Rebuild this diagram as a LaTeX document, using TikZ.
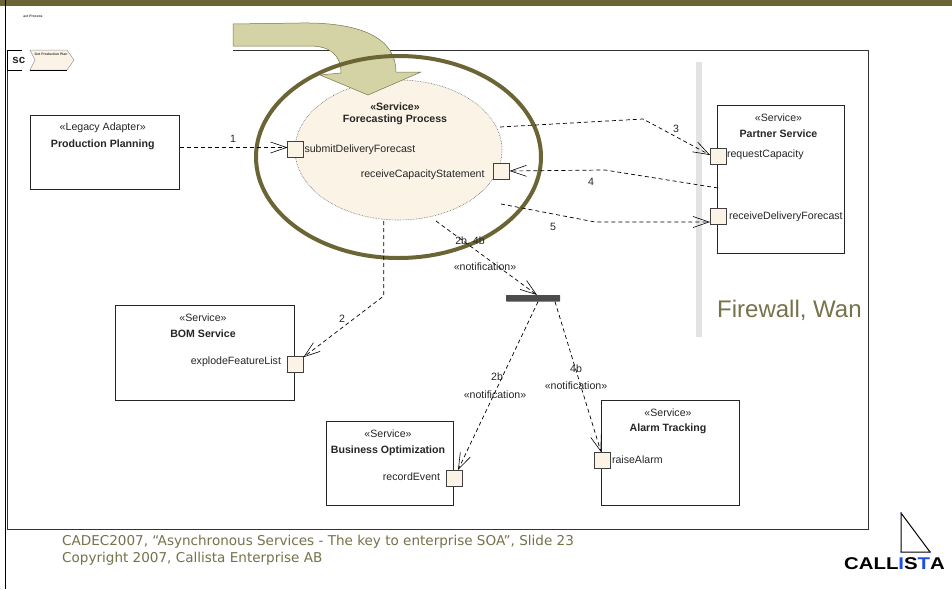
\documentclass[tikz,border=0pt]{standalone}
\usepackage{fontspec}
\setmainfont{Liberation Sans}
\newfontfamily\footfont{DejaVu Sans}
\newfontfamily\logofont[FakeStretch=1.2]{Liberation Sans}
\usetikzlibrary{arrows.meta,positioning,shapes.geometric}
\definecolor{olive}{HTML}{6B6535}
\definecolor{oliveText}{HTML}{76724A}
\definecolor{oliveLight}{HTML}{D4D3A6}
\definecolor{cream}{HTML}{FBF3E6}
\definecolor{wall}{HTML}{E3E3E3}
\definecolor{logoBlue}{HTML}{1F4FE0}

\begin{document}
\begin{tikzpicture}[
x=1pt, y=-1pt,
    Txt/.style = {inner sep=0pt, outer sep=0pt, text=black!85,
                  font=\fontsize{10.6}{13}\selectfont},
    Ttl/.style = {Txt, font=\fontsize{10.6}{13}\selectfont\bfseries},
    Box/.style = {rectangle, draw=black!85, line width=.9pt,
                  outer sep=0pt},
   Port/.style = {rectangle, draw=black!75, fill=cream, line width=1pt,
                  minimum size=16pt, inner sep=0pt, outer sep=0pt},% small squares on the boxes
   Conn/.style = {dashed, dash pattern=on 4pt off 3pt, line width=.7pt,
                  -{Straight Barb[length=16pt,width=11pt,line width=.6pt]}},
   Tiny/.style = {inner sep=0pt, text=black!80, font=\fontsize{3.4}{4}\selectfont\bfseries},
   Foot/.style = {inner sep=0pt, text=oliveText, anchor=west,
                  font=\footfont\fontsize{13.55}{15}\selectfont},
                    ]
\useasboundingbox (0,0) rectangle (952,589);
\fill[white] (0,0) rectangle (952,589);
\fill[olive] (0,0) rectangle (952,5.5);
\draw[line width=1pt] (5.5,0) -- (5.5,589);
% outer frame, open on its top left
\draw[black!80, line width=1pt] (233,50) -- (868,50) -- (868,529) -- (7.5,529) -- (7.5,70);
\draw[line width=1pt] (22,70) -- (7.5,70) -- (7.5,50) -- (22,50);
\node (sdTab) [Txt, font=\fontsize{11.5}{13}\selectfont\bfseries, anchor=west] at (12.5,60) {sc};
\node (actName) [Tiny] at (33,16) {act Process};
\fill[cream, draw=black!40, line width=.5pt] (30,50) -- (67,50) -- (74,60) -- (67,70) -- (30,70) -- (35,60) -- cycle;
\draw[line width=.8pt] (30,70) -- (67,70);
\node (planTag) [Tiny] at (51,54.5) {Get Production Plan};
\fill[wall] (696,62) rectangle (702,337);
% process in the middle
\node (Proc) [ellipse, draw=black!60, densely dotted, fill=cream, line width=.6pt,
              minimum width=207pt, minimum height=140pt, inner sep=0pt] at (398.5,150) {};
\draw[olive!90, fill=oliveLight, line width=.5pt] (233,24) -- (300,23)
    .. controls (365,22) and (396,40) .. (396,72) -- (421,72) -- (368,95) -- (320,75) -- (341,73)
    .. controls (341,55) and (330,46) .. (310,46) -- (233,46) -- cycle;
\draw[olive, line width=4pt] (398.5,157) ellipse [x radius=142.5, y radius=101];
\node (ProcS) [Ttl] at (395,107) {«Service»};
\node (ProcT) [Ttl] at (395,120) {Forecasting Process};
% the boxes, centre and size
\foreach \n/\x/\y/\w/\h/\s/\t in {
    Plan/104.75/152.25/148.5/73.5/{«Legacy Adapter»}/{Production Planning},
    Partner/780.5/179/127/148/{«Service»}/{Partner Service},
    Bom/205/352.5/179.5/95/{«Service»}/{BOM Service},
    Opt/390/463.5/127.5/84/{«Service»}/{Business Optimization},
    Alarm/670/452.75/138/105.5/{«Service»}/{Alarm Tracking}}{
  \node (\n) [Box, minimum width=\w pt, minimum height=\h pt] at (\x,\y) {};
  \node (\n-s) [Txt] at ([xshift=-2pt,yshift=-12.5pt]\n.north) {\s};
  \node (\n-t) [Ttl] at ([xshift=-2pt,yshift=-29pt]\n.north) {\t};
}
% ports and what they are called
\node (submit)  [Port] at (295.5,149.5) {};
\node (receive) [Port] at (501.5,171) {};
\node (request) [Port] at (718,156) {};
\node (deliver) [Port] at (718,216) {};
\node (explode) [Port] at (295.5,364) {};
\node (record)  [Port] at (454,478) {};
\node (raise)   [Port] at (602,460) {};
\node (submit-l)  [Txt, right=1pt of submit] {submitDeliveryForecast};
\node (receive-l) [Txt, left=9pt of receive, yshift=-3.5pt] {receiveCapacityStatement};
\node (request-l) [Txt, right=1pt of request, yshift=1.5pt] {requestCapacity};
\node (deliver-l) [Txt, right=3pt of deliver, yshift=-.5pt] {receiveDeliveryForecast};
\node (explode-l) [Txt, left=6.5pt of explode, yshift=2pt] {explodeFeatureList};
\node (record-l)  [Txt, left=6pt of record, yshift=1.5pt] {recordEvent};
\node (raise-l)   [Txt, right=2pt of raise] {raiseAlarm};
\node (Bar) [rectangle, fill=black!70, minimum width=54pt, minimum height=6.5pt,
             inner sep=0pt, rounded corners=.5pt] at (533,298.25) {};
% free ends and bends of the connectors
\coordinate (a1) at (179.5,147.5);
\coordinate (a3) at (500,127);
\coordinate (b3) at (643,119);
\coordinate (a4) at (718,188);
\coordinate (b4) at (605,170);
\coordinate (a5) at (501,204);
\coordinate (b5) at (595,222);
\coordinate (e5) at (710,222);
\coordinate (a2) at (383.7,221);
\coordinate (b2) at (383.7,296);
\coordinate (e2) at (303.3,357.3);
\coordinate (aB) at (436,221);
\coordinate (eB) at (537,295);
\coordinate (eO) at (458,470);
\coordinate (eA) at (601,452);
\draw[Conn] (a1) -- ([yshift=2pt]submit.west);
\draw[Conn] (a3) -- (b3) -- ([yshift=1pt]request.west);
\draw[Conn] (a4) -- (b4) -- (receive.east);
\draw[Conn] (a5) -- (b5) -- (e5);
\draw[Conn] (a2) -- (b2) -- (e2);
\draw[Conn] (aB) -- (eB);
\draw[Conn] ([xshift=5pt]Bar.south) -- (eO);
\draw[Conn] ([xshift=22pt]Bar.south) -- (eA);
% numbers on the connectors
\node (n1)  [Txt] at (233,139) {1};
\node (n2)  [Txt] at (342,319) {2};
\node (n3)  [Txt] at (676,129) {3};
\node (n4)  [Txt] at (591,182) {4};
\node (n5)  [Txt] at (553,227) {5};
\node (n2b4b) [Txt] at (470,241) {2b, 4b};
\node (nt1) [Txt] at (485,267) {«notification»};
\node (n2b) [Txt] at (497,377) {2b};
\node (nt2) [Txt] at (495,395) {«notification»};
\node (n4b) [Txt] at (576,369) {4b};
\node (nt3) [Txt] at (576,386) {«notification»};
\node (wan) [inner sep=0pt, text=oliveText, font=\fontsize{24}{28}\selectfont, anchor=west] at (717,310) {Firewall, Wan};
\node (foot1) [Foot] at (62,542) {CADEC2007, “Asynchronous Services - The key to enterprise SOA”, Slide 23};
\node (foot2) [Foot] at (62,559) {Copyright 2007, Callista Enterprise AB};
% logo
\draw[line width=1pt, line join=round] (901,513) -- (901,552) -- (930,552) -- cycle;
\fill[logoBlue] (901,513) circle (1pt) (901,552) circle (1pt) (930,552) circle (1pt);
\node (logo) [inner sep=0pt, font=\logofont\bfseries\fontsize{17}{19}\selectfont] at (894.5,563.5) {CALL\textcolor{logoBlue}{I}S\textcolor{logoBlue}{T}A};
\end{tikzpicture}
\end{document}
